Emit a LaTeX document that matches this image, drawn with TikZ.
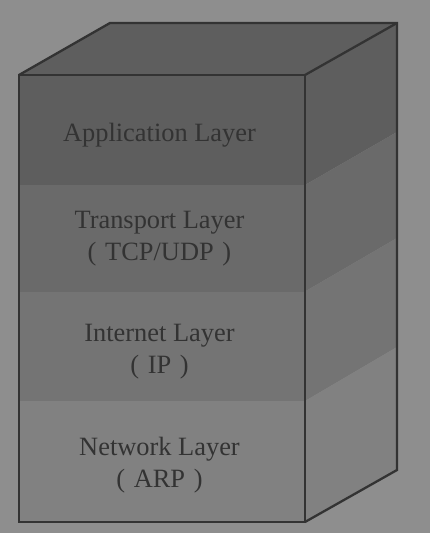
\documentclass[tikz,border=0pt]{standalone}
\usepackage{fontspec}
\setmainfont{Liberation Serif}
\definecolor{bgGray}{HTML}{8E8E8E}
\definecolor{edgeGray}{HTML}{333333}
\definecolor{layerA}{HTML}{5E5E5E}
\definecolor{layerB}{HTML}{6A6A6A}
\definecolor{layerC}{HTML}{747474}
\definecolor{layerD}{HTML}{818181}
\tikzset{
  boxedge/.style={draw=edgeGray, line width=2.3pt, line join=miter},
  layertext/.style={text=edgeGray, align=center, inner sep=0pt,
    font=\fontsize{26.4}{32}\selectfont}
}

\begin{document}
\begin{tikzpicture}[x=1pt, y=-1pt]
\useasboundingbox (0,0) rectangle (430,533);
\fill[bgGray] (0,0) rectangle (430,533);
% Ecken des Quaders
\coordinate (frontTL) at (19,75);
\coordinate (frontTR) at (305,75);
\coordinate (frontBR) at (305,522);
\coordinate (frontBL) at (19,522);
\coordinate (backTL) at (110,23);
\coordinate (backTR) at (397,23);
\coordinate (backBR) at (397,470);
% Schichten vorne
\fill[layerA] (19,75) rectangle (305,185);
\fill[layerB] (19,185) rectangle (305,291.5);
\fill[layerC] (19,291.5) rectangle (305,401);
\fill[layerD] (19,401) rectangle (305,522);
% Schichten rechts
\fill[layerA] (frontTR) -- (backTR) -- (397,132) -- (305,185) -- cycle;
\fill[layerB] (305,185) -- (397,132) -- (397,238) -- (305,291.5) -- cycle;
\fill[layerC] (305,291.5) -- (397,238) -- (397,347) -- (305,401) -- cycle;
\fill[layerD] (305,401) -- (397,347) -- (backBR) -- (frontBR) -- cycle;
% Deckel
\fill[layerA] (frontTL) -- (backTL) -- (backTR) -- (frontTR) -- cycle;
% Kanten
\draw[boxedge] (frontTL) -- (frontTR) -- (frontBR) -- (frontBL) -- cycle;
\draw[boxedge] (frontTL) -- (backTL) -- (backTR) -- (backBR) -- (frontBR);
\draw[boxedge] (frontTR) -- (backTR);
% Beschriftung
\node[layertext] (application) at (159.5,135) {Application Layer};
\node[layertext] (transport) at (159.5,239) {Transport Layer\\(\hspace{0.33em}TCP/UDP\hspace{0.33em})};
\node[layertext] (internet) at (159.5,352) {Internet Layer\\(\hspace{0.33em}IP\hspace{0.33em})};
\node[layertext] (network) at (159.5,465) {Network Layer\\(\hspace{0.33em}ARP\hspace{0.33em})};
\end{tikzpicture}
\end{document}
